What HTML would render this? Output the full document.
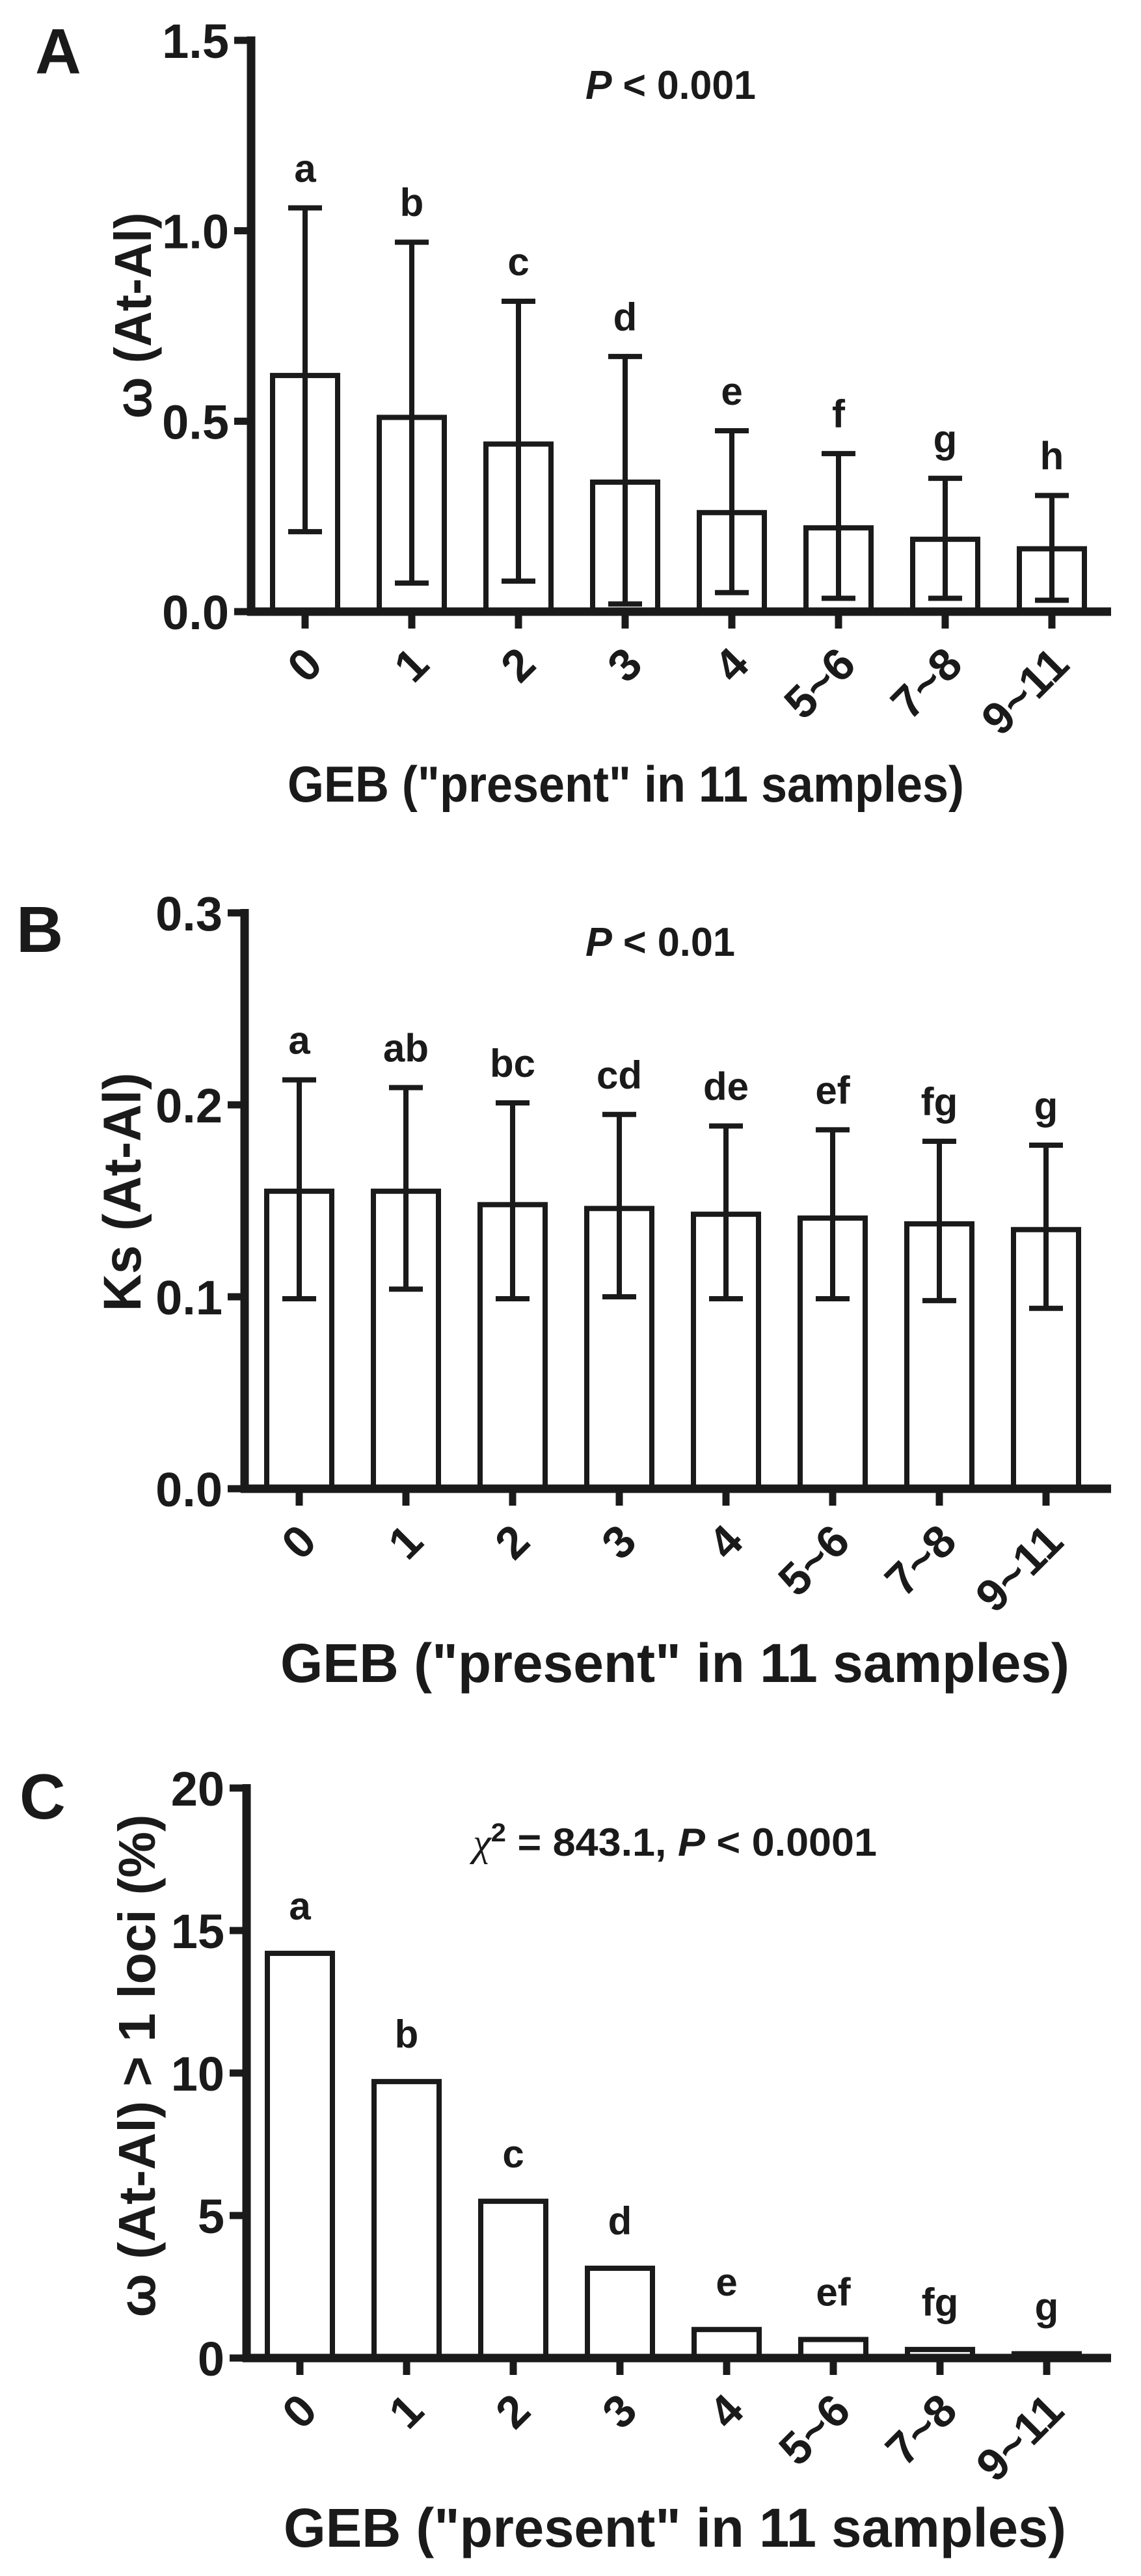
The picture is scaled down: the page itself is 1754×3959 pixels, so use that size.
<!DOCTYPE html>
<html><head><meta charset="utf-8"><style>
html,body{margin:0;padding:0;background:#fff;}
svg{display:block;}
text{font-family:"Liberation Sans",Arial,sans-serif;font-weight:bold;fill:#1a1a1a;}
</style></head><body>
<svg id="fig" width="1754" height="3959" viewBox="0 0 1754 3959" xmlns="http://www.w3.org/2000/svg"></svg>
<script>
const categories = ["0","1","2","3","4","5~6","7~8","9~11"];
const omegaMean  = [0.62,0.51,0.44,0.34,0.26,0.22,0.19,0.165];
const omegaUpper = [1.06,0.97,0.815,0.67,0.475,0.415,0.35,0.305];
const omegaLower = [0.21,0.075,0.08,0.02,0.05,0.035,0.035,0.03];
const omegaLetters = ["a","b","c","d","e","f","g","h"];
const omegaTicks = ["0.0","0.5","1.0","1.5"];
const ksMean  = [0.155,0.155,0.148,0.146,0.143,0.141,0.138,0.135];
const ksUpper = [0.213,0.209,0.201,0.195,0.189,0.187,0.181,0.179];
const ksLower = [0.099,0.104,0.099,0.100,0.099,0.099,0.098,0.094];
const ksLetters = ["a","ab","bc","cd","de","ef","fg","g"];
const ksTicks = ["0.0","0.1","0.2","0.3"];
const pctValues = [14.2,9.7,5.5,3.15,1.0,0.65,0.3,0.15];
const pctLetters = ["a","b","c","d","e","ef","fg","g"];
const pctTicks = ["0","5","10","15","20"];

const NS="http://www.w3.org/2000/svg";
const svg=document.getElementById('fig');
function mk(tag,attrs,parent){const e=document.createElementNS(NS,tag);for(const k in attrs)e.setAttribute(k,attrs[k]);(parent||svg).appendChild(e);return e;}

function panel(o){
  const g=mk('g',{});
  
  
  const ymin=0,ymax=parseFloat(o.ticks[o.ticks.length-1]);
  const yS=v=>o.y0-(v-ymin)/(ymax-ymin)*(o.y0-o.yTop);
  const xS=i=>o.x0c+i*o.step;
  o.mean.forEach((v,i)=>{
    const r=mk('rect',{x:xS(i)-50,y:yS(v),width:100,height:o.y0-yS(v),fill:'#fff',stroke:'#1a1a1a','stroke-width':8},g);
    
    
  });
  if(o.upper){o.mean.forEach((v,i)=>{
    const eg=mk('g',{stroke:'#1a1a1a','stroke-width':8},g);
    
    
    mk('line',{x1:xS(i),x2:xS(i),y1:yS(o.upper[i]),y2:yS(o.lower[i])},eg);
    mk('line',{x1:xS(i)-26,x2:xS(i)+26,y1:yS(o.upper[i]),y2:yS(o.upper[i])},eg);
    mk('line',{x1:xS(i)-26,x2:xS(i)+26,y1:yS(o.lower[i]),y2:yS(o.lower[i])},eg);
  });}
  o.letters.forEach((s,i)=>{
    const top=o.upper?o.upper[i]:o.mean[i];
    const t=mk('text',{x:xS(i),y:yS(top)-o.letGap,'text-anchor':'middle','font-size':60},g);
    t.textContent=s;
    
    
  });
  const ax=mk('g',{stroke:'#1a1a1a','stroke-width':13},g);
  
  
  mk('line',{x1:o.ax,x2:o.ax,y1:yS(ymax)-6,y2:o.y0+6},ax);
  mk('line',{x1:o.ax-6,x2:1708,y1:o.y0,y2:o.y0},ax);
  o.ticks.forEach(tk=>{
    const v=parseFloat(tk);
    mk('line',{x1:o.ax-26,x2:o.ax,y1:yS(v),y2:yS(v),'stroke-width':11},ax);
    const t=mk('text',{x:o.ax-34,y:yS(v)+27,'text-anchor':'end','font-size':74},g);
    t.textContent=tk;
    
    
  });
  categories.forEach((c,i)=>{
    mk('line',{x1:xS(i),x2:xS(i),y1:o.y0,y2:o.y0+26,'stroke-width':11},ax);
    const ex=xS(i)+30,ey=o.y0+85;
    const t=mk('text',{x:ex,y:ey,'text-anchor':'end','font-size':70,transform:`rotate(-45 ${ex} ${ey})`},g);
    t.textContent=c;
    
    
  });
  return g;
}

panel({name:'panel-a-omega',mean:omegaMean,upper:omegaUpper,lower:omegaLower,letters:omegaLetters,ticks:omegaTicks,ax:386,y0:940,yTop:62,x0c:469,step:164,letGap:40});
panel({name:'panel-b-ks',mean:ksMean,upper:ksUpper,lower:ksLower,letters:ksLetters,ticks:ksTicks,ax:376,y0:2288,yTop:1403,x0c:460,step:164,letGap:40});
panel({name:'panel-c-percent',mean:pctValues,letters:pctLetters,ticks:pctTicks,ax:379,y0:3624,yTop:2748,x0c:461,step:164,letGap:52});
</script>
<svg style="position:absolute;left:0;top:0" width="1754" height="3959" viewBox="0 0 1754 3959" xmlns="http://www.w3.org/2000/svg">
<text x="54" y="113" font-size="98">A</text>
<text x="900" y="152" font-size="62" textLength="262" lengthAdjust="spacingAndGlyphs"><tspan font-style="italic">P</tspan> &lt; 0.001</text>
<text transform="translate(232 485) rotate(-90)" text-anchor="middle" font-size="80" textLength="317" lengthAdjust="spacingAndGlyphs">ω (At-Al)</text>
<text x="442" y="1232" font-size="78" textLength="1040" lengthAdjust="spacingAndGlyphs">GEB ("present"  in 11 samples)</text>

<text x="25" y="1463" font-size="100">B</text>
<text x="900" y="1469" font-size="62" textLength="230" lengthAdjust="spacingAndGlyphs"><tspan font-style="italic">P</tspan> &lt; 0.01</text>
<text transform="translate(216 1832) rotate(-90)" text-anchor="middle" font-size="82" textLength="367" lengthAdjust="spacingAndGlyphs">Ks (At-Al)</text>
<text x="431" y="2585" font-size="84" textLength="1213" lengthAdjust="spacingAndGlyphs">GEB ("present"  in 11 samples)</text>

<text x="30" y="2795" font-size="98">C</text>
<text x="727" y="2852" font-size="60" textLength="621" lengthAdjust="spacingAndGlyphs"><tspan font-family="Liberation Serif" font-weight="normal" font-style="italic">χ</tspan><tspan dy="-22" font-size="40">2</tspan><tspan dy="22"> = 843.1, </tspan><tspan font-style="italic">P</tspan> &lt; 0.0001</text>
<text transform="translate(238 3175) rotate(-90)" text-anchor="middle" font-size="80" textLength="773" lengthAdjust="spacingAndGlyphs">ω (At-Al) &gt; 1 loci (%)</text>
<text x="436" y="3914" font-size="84" textLength="1203" lengthAdjust="spacingAndGlyphs">GEB ("present"  in 11 samples)</text>
</svg>
</body></html>
